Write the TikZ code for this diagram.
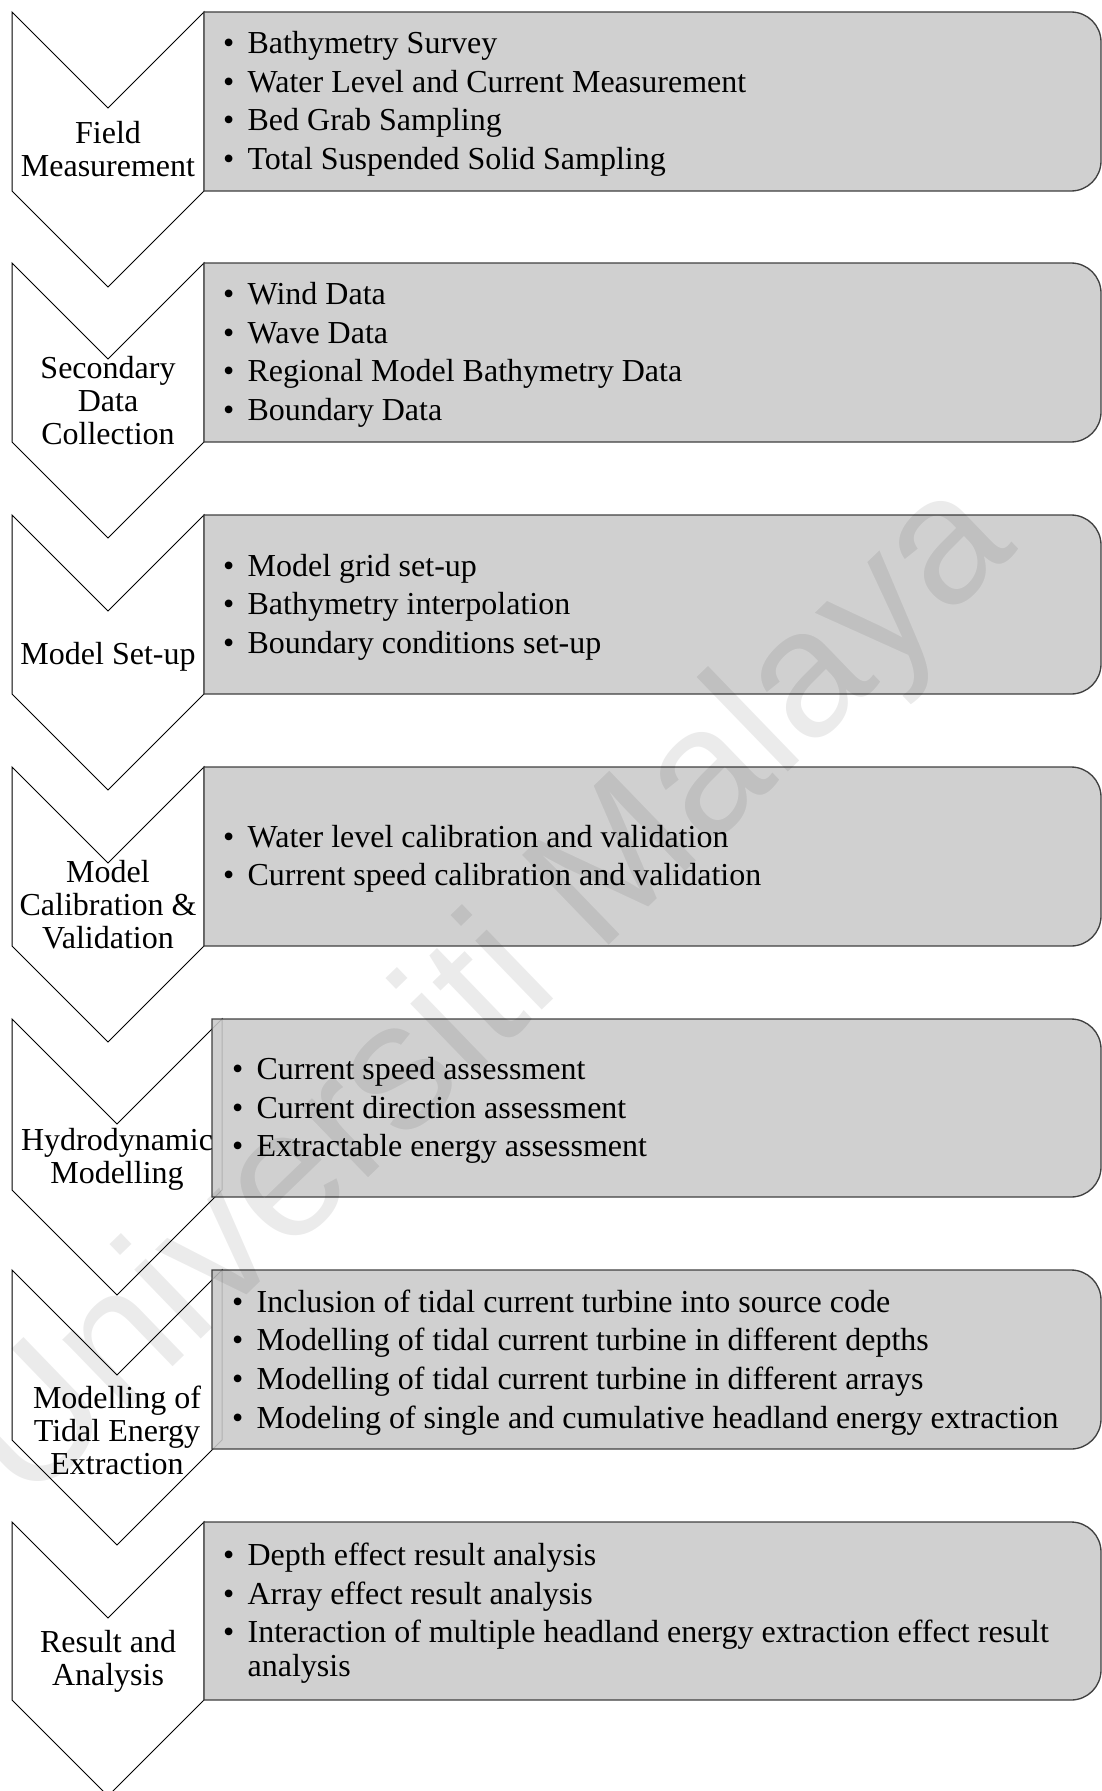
\documentclass[tikz,border=0pt]{standalone}
\usepackage{fontspec}
\setmainfont{Liberation Serif}
\newfontfamily\wmfont{Liberation Sans}

\tikzset{every picture/.style={line width=0.75pt}}
\tikzset{
  chevron/.style={draw={rgb, 255:red, 0; green, 0; blue, 0 }, fill=white, line width=0.75pt, line join=miter},
  stepbox/.style={draw={rgb, 255:red, 64; green, 64; blue, 64 }, fill={rgb, 255:red, 202; green, 202; blue, 202 }, fill opacity=0.88, line width=1pt},
  steplabel/.style={align=center, inner sep=0pt, font=\fontsize{24}{24.75}\selectfont},
  itemlist/.style={anchor=west, inner sep=0pt, font=\fontsize{24}{28.9}\selectfont},
}

\begin{document}
\begin{tikzpicture}[x=0.75pt,y=0.75pt,yscale=-1,xscale=1]
\useasboundingbox (0,0) rectangle (1102,1791);

%Shape: Chevron 1
\draw [chevron] (12,12) -- (108,108) -- (204,12) -- (204,191) -- (108,287) -- (12,191) -- cycle ;
%Shape: Chevron 2
\draw [chevron] (12,263) -- (108,359) -- (204,263) -- (204,442) -- (108,538) -- (12,442) -- cycle ;
%Shape: Chevron 3
\draw [chevron] (12,515) -- (108,611) -- (204,515) -- (204,694) -- (108,790) -- (12,694) -- cycle ;
%Shape: Chevron 4
\draw [chevron] (12,767) -- (108,863) -- (204,767) -- (204,946) -- (108,1042) -- (12,946) -- cycle ;
%Shape: Chevron 5
\draw [chevron] (12,1019) -- (117,1124) -- (222,1019) -- (222,1190) -- (117,1295) -- (12,1190) -- cycle ;
%Shape: Chevron 6
\draw [chevron] (12,1270) -- (117,1375) -- (222,1270) -- (222,1440) -- (117,1545) -- (12,1440) -- cycle ;
%Shape: Chevron 7
\draw [chevron] (12,1522) -- (108,1618) -- (204,1522) -- (204,1700) -- (108,1796) -- (12,1700) -- cycle ;

%Shape: Box 1
\draw [stepbox] (204,12) -- (1071,12) .. controls (1087.6,12) and (1101,25.4) .. (1101,42) -- (1101,161) .. controls (1101,177.6) and (1087.6,191) .. (1071,191) -- (204,191) -- cycle ;
%Shape: Box 2
\draw [stepbox] (204,263) -- (1071,263) .. controls (1087.6,263) and (1101,276.4) .. (1101,293) -- (1101,412) .. controls (1101,428.6) and (1087.6,442) .. (1071,442) -- (204,442) -- cycle ;
%Shape: Box 3
\draw [stepbox] (204,515) -- (1071,515) .. controls (1087.6,515) and (1101,528.4) .. (1101,545) -- (1101,664) .. controls (1101,680.6) and (1087.6,694) .. (1071,694) -- (204,694) -- cycle ;
%Shape: Box 4
\draw [stepbox] (204,767) -- (1071,767) .. controls (1087.6,767) and (1101,780.4) .. (1101,797) -- (1101,916) .. controls (1101,932.6) and (1087.6,946) .. (1071,946) -- (204,946) -- cycle ;
%Shape: Box 5
\draw [stepbox] (212,1019) -- (1071,1019) .. controls (1087.6,1019) and (1101,1032.4) .. (1101,1049) -- (1101,1167) .. controls (1101,1183.6) and (1087.6,1197) .. (1071,1197) -- (212,1197) -- cycle ;
%Shape: Box 6
\draw [stepbox] (212,1270) -- (1071,1270) .. controls (1087.6,1270) and (1101,1283.4) .. (1101,1300) -- (1101,1419) .. controls (1101,1435.6) and (1087.6,1449) .. (1071,1449) -- (212,1449) -- cycle ;
%Shape: Box 7
\draw [stepbox] (204,1522) -- (1071,1522) .. controls (1087.6,1522) and (1101,1535.4) .. (1101,1552) -- (1101,1670) .. controls (1101,1686.6) and (1087.6,1700) .. (1071,1700) -- (204,1700) -- cycle ;

% Text Node
\node [steplabel] (field) at (108,149) {Field\\Measurement};
% Text Node
\node [steplabel] (secondary) at (108,401) {Secondary\\Data\\Collection};
% Text Node
\node [steplabel] (setup) at (108,656.5) {Model Set-up};
% Text Node
\node [steplabel] (calibration) at (108,905) {Model\\Calibration \&\\Validation};
% Text Node
\node [steplabel] (hydro) at (117,1159) {Hydrodynamic\\Modelling};
% Text Node
\node [steplabel] (tidal) at (117,1430) {Modelling of\\Tidal Energy\\Extraction};
% Text Node
\node [steplabel] (result) at (108,1661.5) {Result and\\Analysis};

% Text Node
\node [itemlist] (fielditems) at (222.5,104) {\begin{tabular}{@{}p{18.5pt}@{}l@{}}
\textbullet & Bathymetry Survey\\
\textbullet & Water Level and Current Measurement\\
\textbullet & Bed Grab Sampling\\
\textbullet & Total Suspended Solid Sampling
\end{tabular}};
% Text Node
\node [itemlist] (secondaryitems) at (222.5,355) {\begin{tabular}{@{}p{18.5pt}@{}l@{}}
\textbullet & Wind Data\\
\textbullet & Wave Data\\
\textbullet & Regional Model Bathymetry Data\\
\textbullet & Boundary Data
\end{tabular}};
% Text Node
\node [itemlist] (setupitems) at (222.5,607) {\begin{tabular}{@{}p{18.5pt}@{}l@{}}
\textbullet & Model grid set-up\\
\textbullet & Bathymetry interpolation\\
\textbullet & Boundary conditions set-up
\end{tabular}};
% Text Node
\node [itemlist] (calibrationitems) at (222.5,859) {\begin{tabular}{@{}p{18.5pt}@{}l@{}}
\textbullet & Water level calibration and validation\\
\textbullet & Current speed calibration and validation
\end{tabular}};
% Text Node
\node [itemlist] (hydroitems) at (231.5,1110.5) {\begin{tabular}{@{}p{18.5pt}@{}l@{}}
\textbullet & Current speed assessment\\
\textbullet & Current direction assessment\\
\textbullet & Extractable energy assessment
\end{tabular}};
% Text Node
\node [itemlist] (tidalitems) at (231.5,1362.5) {\begin{tabular}{@{}p{18.5pt}@{}l@{}}
\textbullet & Inclusion of tidal current turbine into source code\\
\textbullet & Modelling of tidal current turbine in different depths\\
\textbullet & Modelling of tidal current turbine in different arrays\\
\textbullet & Modeling of single and cumulative headland energy extraction
\end{tabular}};
% Text Node
\node [itemlist] (resultitems) at (222.5,1613.5) {\begin{tabular}{@{}p{18.5pt}@{}l@{}}
\textbullet & Depth effect result analysis\\
\textbullet & Array effect result analysis\\
\textbullet & Interaction of multiple headland energy extraction effect result\\[-3.2pt]
 & analysis
\end{tabular}};

% Watermark
\node [rotate=44, text=black, text opacity=0.08, font=\wmfont\fontsize{136}{136}\selectfont] (watermark) at (490,995) {Universiti Malaya};

\end{tikzpicture}
\end{document}
